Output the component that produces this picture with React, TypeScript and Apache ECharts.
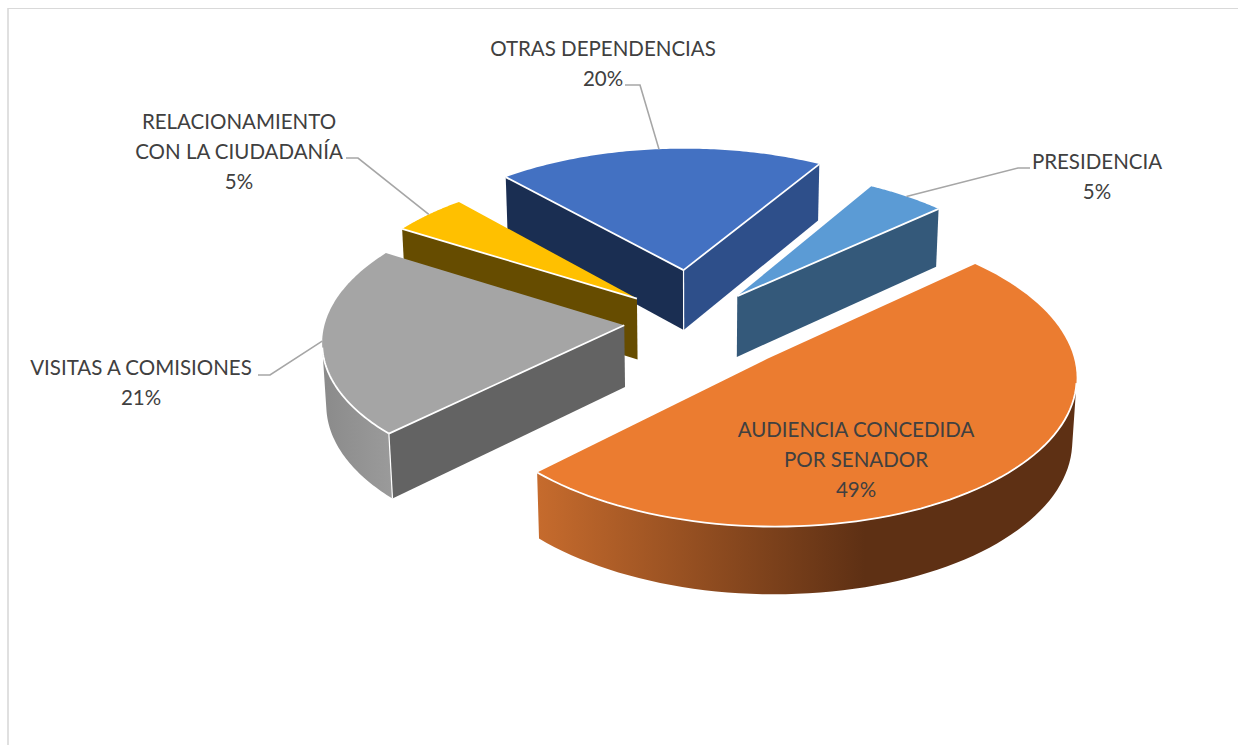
import React, { useEffect, useRef } from "react";
import * as echarts from "echarts";

const categories = ["AUDIENCIA CONCEDIDA\nPOR SENADOR", "VISITAS A COMISIONES", "RELACIONAMIENTO\nCON LA CIUDADANÍA", "OTRAS DEPENDENCIAS", "PRESIDENCIA"];
const values = [49.4, 21.2, 4.6, 20, 4.8];
const percentLabels = ["49%", "21%", "5%", "20%", "5%"];

// Styling and layout
const topColors = ["#eb7c30", "#a5a5a5", "#ffc000", "#4371c2", "#5b9bd5"];
const startWallColors = ["#5e3014", "#636363", "#664c00", "#1a2e52", "#34597a"];
const endWallColors = ["#5e3014", "#636363", "#664c00", "#2e4f8a", "#34597a"];
const explode = [0.3484, 0.234, 0.2537, 0.3749, 0.2337];
const labelCenters = [[856, 459], [141, 382], [239, 151], [603, 63], [1097, 176]];
const leaderElbows: (number[][] | null)[] = [null, [[270, 375], [258, 375]], [[358, 158], [346, 158]], [[640, 85], [625, 85]], [[1018, 168], [1030, 168]]];
const START_ANGLE = 47.725;
const VIEW = { cx: 694, cy: 321.62, rx: 299.07, ry: 143.18, depth: 62.28, persp: 0.0994, drop: 0.0111 };
const FONT = '20.5px Lato, "Noto Sans", sans-serif';

const E = echarts as any;
const total = values.reduce((a, b) => a + b, 0);
const spans = (() => {
  let c = START_ANGLE;
  return values.map((v) => { const s = c; c += (v / total) * 360; return [s, c]; });
})();

function project(i: number, theta: number | null, Z: number) {
  const [s, t] = spans[i];
  const m = (((s + t) / 2) * Math.PI) / 180;
  let X = explode[i] * Math.sin(m);
  let Y = -explode[i] * Math.cos(m);
  if (theta !== null) {
    const a = (theta * Math.PI) / 180;
    X += Math.sin(a);
    Y -= Math.cos(a);
  }
  const w = 1 - VIEW.persp * Y + VIEW.drop * Z;
  return [VIEW.cx + (VIEW.rx * X) / w, VIEW.cy + (VIEW.ry * Y + VIEW.depth * Z) / w];
}
const cross = (a: number[], b: number[], c: number[]) => (b[0] - a[0]) * (c[1] - a[1]) - (b[1] - a[1]) * (c[0] - a[0]);
const stripFill = (i: number) => {
  if (i === 0) return new E.graphic.LinearGradient(537, 0, 865, 0, [{ offset: 0, color: "#c66b2d" }, { offset: 1, color: "#5e3014" }], true);
  if (i === 1) return new E.graphic.LinearGradient(325, 0, 394, 0, [{ offset: 0, color: "#8b8b8b" }, { offset: 1, color: "#9b9b9b" }], true);
  return startWallColors[i];
};
const drawOrder = values.map((_, i) => i).sort((a, b) => {
  const my = (k: number) => -explode[k] * Math.cos((((spans[k][0] + spans[k][1]) / 2) * Math.PI) / 180);
  return my(a) - my(b);
});

function renderItem(_: any, api: any) {
  const i = api.value(0);
  const [s, t] = spans[i];
  const N = 90;
  const ch: any[] = [];
  const top: number[][] = [], bot: number[][] = [];
  for (let k = 0; k <= N; k++) {
    const th = s + ((t - s) * k) / N;
    top.push(project(i, th, 0));
    bot.push(project(i, th, 1));
  }
  const a0 = project(i, null, 0), a1 = project(i, null, 1);
  const mid = top[N / 2];
  const white = (points: number[][], lineWidth = 1.8) => ({ type: "polyline", z2: 5, shape: { points }, style: { stroke: "#ffffff", fill: "none", lineWidth } });

  // Outer wall: only the run facing the viewer
  const runs: number[][] = [];
  let start = -1;
  for (let k = 0; k < N; k++) {
    const vis = cross(top[k], top[k + 1], a0) * cross(top[k], top[k + 1], bot[k]) < 0;
    if (vis && start < 0) start = k;
    if (!vis && start >= 0) { runs.push([start, k]); start = -1; }
  }
  if (start >= 0) runs.push([start, N]);
  runs.forEach(([a, b]) => {
    const tr = top.slice(a, b + 1), br = bot.slice(a, b + 1);
    ch.push({ type: "polygon", shape: { points: [...tr, ...br.reverse()] }, style: { fill: stripFill(i) } });
  });

  // Radial walls: only when facing the viewer
  const visS = cross(a0, top[0], mid) * cross(a0, top[0], a1) < 0;
  const visE = cross(a0, top[N], mid) * cross(a0, top[N], a1) < 0;
  if (visS) ch.push({ type: "polygon", shape: { points: [a0, top[0], bot[0], a1] }, style: { fill: startWallColors[i] } });
  if (visE) ch.push({ type: "polygon", shape: { points: [a0, top[N], bot[N], a1] }, style: { fill: endWallColors[i] } });

  // Top face
  ch.push({ type: "polygon", z2: 3, shape: { points: [a0, ...top] }, style: { fill: topColors[i] } });

  // White edges
  runs.forEach(([a, b]) => ch.push(white(top.slice(a, b + 1))));
  if (visS) ch.push(white([a0, top[0]]));
  if (visE) ch.push(white([a0, top[N]]));
  if (visS && visE) ch.push(white([a0, a1], 1.2));
  if (visS && runs.some((r) => r[0] === 0)) ch.push(white([top[0], bot[0]], 1.2));
  if (visE && runs.some((r) => r[1] === N)) ch.push(white([top[N], bot[N]], 1.2));

  // Leader line and label
  const elbow = leaderElbows[i];
  if (elbow) ch.push({ type: "polyline", z2: 6, shape: { points: [mid, ...elbow] }, style: { stroke: "#a6a6a6", fill: "none", lineWidth: 1.6 } });
  ch.push({
    type: "text", z2: 7,
    style: {
      text: categories[i] + "\n" + percentLabels[i],
      x: labelCenters[i][0], y: labelCenters[i][1],
      textAlign: "center", textVerticalAlign: "middle",
      font: FONT, lineHeight: 30, fill: "#404040",
    },
  });
  return { type: "group", children: ch };
}

export default function App() {
  const ref = useRef<HTMLDivElement>(null);
  useEffect(() => {
    const chart = echarts.init(ref.current!, null, { renderer: "svg" });
    chart.setOption({
      animation: false,
      backgroundColor: "#ffffff",
      graphic: [
        { type: "line", shape: { x1: 8, y1: 8.5, x2: 1238, y2: 8.5 }, style: { stroke: "#d9d9d9", lineWidth: 1.2 } },
        { type: "line", shape: { x1: 8, y1: 8, x2: 8, y2: 745 }, style: { stroke: "#d9d9d9", lineWidth: 1.6 } },
      ],
      series: [{ type: "custom", coordinateSystem: "none", clip: false, data: drawOrder.map((i) => [i, values[i]]), renderItem }],
    } as any);
    return () => chart.dispose();
  }, []);
  return <div ref={ref} style={{ position: "absolute", left: 0, top: 0, width: 1238, height: 745 }} />;
}
